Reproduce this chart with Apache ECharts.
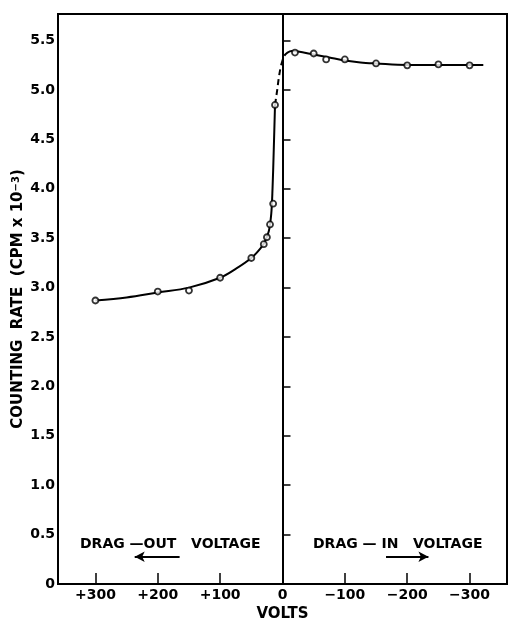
<!DOCTYPE html>
<html>
<head>
<meta charset="utf-8">
<script src="https://cdn.jsdelivr.net/npm/echarts@6/dist/echarts.min.js"></script>
<style>html,body{margin:0;padding:0;background:#fff;}#c{width:510px;height:620px;}</style>
</head>
<body>
<div id="c"></div>
<script>
// Tick values
const xTicks = [300, 200, 100, 0, -100, -200, -300];
const yTicks = [0, 0.5, 1.0, 1.5, 2.0, 2.5, 3.0, 3.5, 4.0, 4.5, 5.0, 5.5];

// Measured points (volts, counting rate x10^-3)
const pointVolts = [300, 200, 150, 100, 50, 30, 25, 20, 15, 12, -20, -50, -70, -100, -150, -200, -250, -300];
const pointRates = [2.87, 2.96, 2.97, 3.10, 3.30, 3.44, 3.51, 3.64, 3.85, 4.85, 5.38, 5.37, 5.31, 5.31, 5.27, 5.25, 5.26, 5.25];

// Drawn curve
const leftCurveVolts = [300, 250, 200, 150, 100, 75, 50, 35, 28, 22, 18, 16, 14, 12];
const leftCurveRates = [2.87, 2.90, 2.95, 3.00, 3.10, 3.19, 3.30, 3.40, 3.47, 3.57, 3.75, 4.00, 4.40, 4.85];
const dashCurveVolts = [12, 8.5, 6, 3, 0, -3];
const dashCurveRates = [4.85, 5.00, 5.12, 5.23, 5.30, 5.35];
const rightCurveVolts = [-3, -8, -15, -25, -50, -75, -100, -125, -150, -200, -250, -300, -322];
const rightCurveRates = [5.35, 5.38, 5.395, 5.39, 5.36, 5.33, 5.30, 5.28, 5.27, 5.255, 5.255, 5.255, 5.255];

const zip = (a, b) => a.map((v, i) => [v, b[i]]);
const FONT = 'DejaVu Sans';

const chart = echarts.init(document.getElementById('c'));
chart.setOption({
  animation: false,
  backgroundColor: '#fff',
  grid: { left: 58, right: 3, top: 14, bottom: 36, show: true, borderColor: '#000', borderWidth: 2,
    backgroundColor: 'transparent', containLabel: false, outerBoundsMode: 'none' },
  xAxis: {
    type: 'value', inverse: true, min: -360, max: 360,
    name: 'VOLTS', nameLocation: 'middle', nameGap: 21,
    nameTextStyle: { color: '#000', fontFamily: FONT, fontSize: 15, fontWeight: 'bold' },
    axisLine: { show: true, lineStyle: { color: '#000', width: 2 } },
    axisTick: { show: true, inside: true, length: 11, lineStyle: { color: '#000', width: 1.5 }, customValues: xTicks },
    axisLabel: { color: '#000', fontFamily: FONT, fontSize: 14, fontWeight: 'bold', margin: 4, customValues: xTicks,
      formatter: v => v > 0 ? '+' + v : (v < 0 ? '\u2212' + Math.abs(v) : '0') },
    splitLine: { show: false }
  },
  yAxis: {
    type: 'value', min: 0, max: 5.77,
    name: 'COUNTING  RATE  (CPM x 10{s|\u22123})', nameLocation: 'middle', nameGap: 32, nameMoveOverlap: false,
    nameTextStyle: { color: '#000', fontFamily: FONT, fontSize: 15, fontWeight: 'bold',
      rich: { s: { fontSize: 10, fontWeight: 'bold', verticalAlign: 'top', lineHeight: 10, color: '#000', fontFamily: FONT, padding: [0, 0, 6, 0] } } },
    axisLine: { show: true, lineStyle: { color: '#000', width: 2 } },
    axisTick: { show: true, inside: true, length: 8, lineStyle: { color: '#000', width: 1.5 }, customValues: yTicks },
    axisLabel: { color: '#000', fontFamily: FONT, fontSize: 14, fontWeight: 'bold', margin: 3, customValues: yTicks,
      formatter: v => v === 0 ? '0' : v.toFixed(1) },
    splitLine: { show: false }
  },
  series: [
    {
      type: 'line', data: zip(leftCurveVolts, leftCurveRates), showSymbol: false, smooth: 0.35,
      lineStyle: { color: '#000', width: 2 }, silent: true,
      markLine: {
        silent: true, symbol: 'none', animation: false,
        label: { show: false },
        lineStyle: { color: '#000', width: 1.5, type: 'solid' },
        data: [{ xAxis: 0 }]
      }
    },
    {
      type: 'line', data: zip(dashCurveVolts, dashCurveRates), showSymbol: false, smooth: 0.35,
      lineStyle: { color: '#000', width: 2, type: [6, 4] }, silent: true
    },
    {
      type: 'line', data: zip(rightCurveVolts, rightCurveRates), showSymbol: false, smooth: 0.35,
      lineStyle: { color: '#000', width: 2 }, silent: true,
      markLine: {
        silent: true, symbol: ['none', 'arrow'], symbolSize: [8, 10], animation: false,
        label: { show: false },
        lineStyle: { color: '#000', width: 2, type: 'solid' },
        data: [
          [{ coord: [165, 0.276] }, { coord: [237, 0.276] }],
          [{ coord: [-166, 0.276] }, { coord: [-234, 0.276] }]
        ]
      }
    },
    {
      type: 'scatter', data: zip(pointVolts, pointRates), symbol: 'circle', symbolSize: 6,
      itemStyle: { color: '#fff', borderColor: '#000', borderWidth: 1.8 }, silent: true, z: 5
    }
  ],
  graphic: [
    { type: 'text', left: 80, top: 537, style: { text: 'DRAG \u2014OUT   VOLTAGE', fill: '#000', font: 'bold 14px "DejaVu Sans"' } },
    { type: 'text', left: 313, top: 537, style: { text: 'DRAG \u2014 IN   VOLTAGE', fill: '#000', font: 'bold 14px "DejaVu Sans"' } }
  ]
});
</script>
</body>
</html>
